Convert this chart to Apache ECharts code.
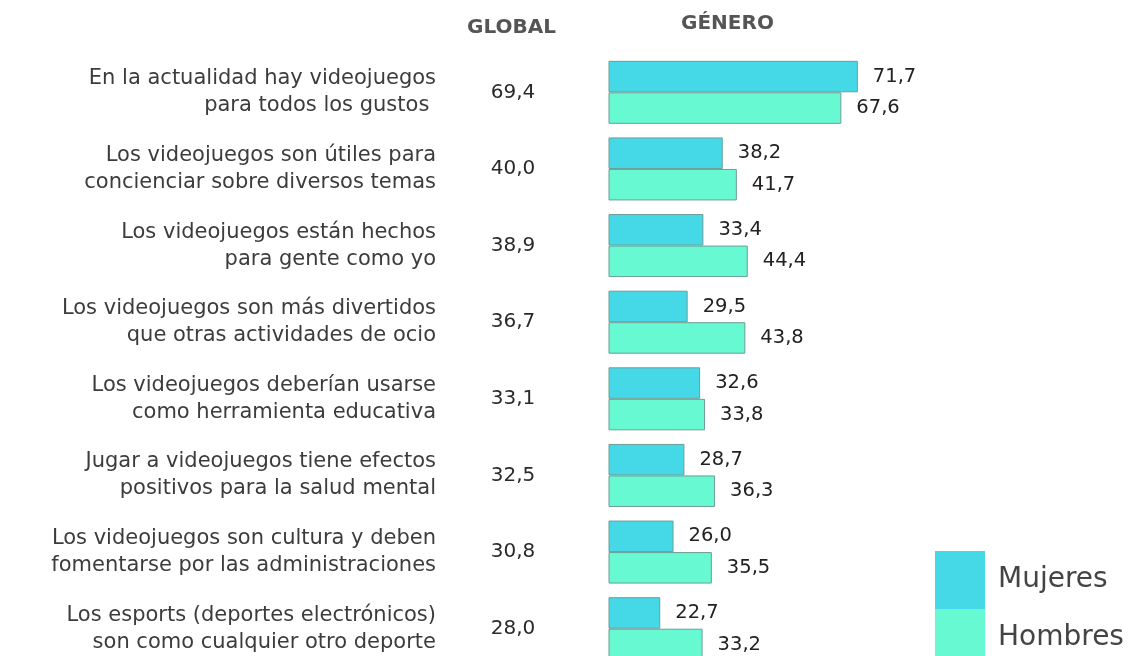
<!DOCTYPE html>
<html>
<head>
<meta charset="utf-8">
<title>Opiniones sobre videojuegos</title>
<script src="https://cdn.jsdelivr.net/npm/echarts@6/dist/echarts.min.js"></script>
<style>
  html, body { margin: 0; padding: 0; background: #ffffff; overflow: hidden; }
  #chart { width: 1138px; height: 656px; }
</style>
</head>
<body>
<div id="chart"></div>
<script>
// Afirmaciones (cada una en dos líneas)
const statements = [
  'En la actualidad hay videojuegos\npara todos los gustos ',
  'Los videojuegos son útiles para\nconcienciar sobre diversos temas',
  'Los videojuegos están hechos\npara gente como yo',
  'Los videojuegos son más divertidos\nque otras actividades de ocio',
  'Los videojuegos deberían usarse\ncomo herramienta educativa',
  'Jugar a videojuegos tiene efectos\npositivos para la salud mental',
  'Los videojuegos son cultura y deben\nfomentarse por las administraciones',
  'Los esports (deportes electrónicos)\nson como cualquier otro deporte'
];

// Porcentaje global de acuerdo
const globalValues = [69.4, 40.0, 38.9, 36.7, 33.1, 32.5, 30.8, 28.0];

// Porcentaje por género
const mujeres = [71.7, 38.2, 33.4, 29.5, 32.6, 28.7, 26.0, 22.7];
const hombres = [67.6, 41.7, 44.4, 43.8, 33.8, 36.3, 35.5, 33.2];

const fmt = v => v.toFixed(1).replace('.', ',');
const FONT = '"DejaVu Sans", "Noto Sans", sans-serif';

const chart = echarts.init(document.getElementById('chart'));

const barBorder = { borderColor: '#6f9c97', borderWidth: 1 };

const valueLabel = {
  show: true,
  position: 'right',
  distance: 15,
  fontSize: 19.5,
  color: '#222222',
  fontFamily: FONT,
  formatter: p => fmt(p.value)
};

chart.setOption({
  animation: false,
  backgroundColor: '#ffffff',
  textStyle: { fontFamily: FONT },
  graphic: [
    {
      type: 'text', left: 467, top: 18,
      style: { text: 'GLOBAL', font: 'bold 20px ' + FONT, fill: '#555555' }
    },
    {
      type: 'text', left: 681, top: 14,
      style: { text: 'GÉNERO', font: 'bold 20px ' + FONT, fill: '#555555' }
    }
  ],
  legend: {
    data: ['Mujeres', 'Hombres'],
    orient: 'vertical',
    left: 935,
    top: 551,
    height: 130,
    itemWidth: 50,
    itemHeight: 58,
    itemGap: 0,
    icon: 'rect',
    padding: 0,
    itemStyle: { borderWidth: 0 },
    textStyle: { fontSize: 28, color: '#444444', fontFamily: FONT, padding: [0, 0, 0, 8] }
  },
  grid: { left: 609, top: 54, width: 363, height: 613, outerBoundsMode: 'none' },
  xAxis: {
    type: 'value',
    min: 10,
    max: 100,
    show: false
  },
  yAxis: [
    {
      type: 'category',
      data: statements,
      inverse: true,
      axisLine: { show: false },
      axisTick: { show: false },
      splitLine: { show: false },
      axisLabel: {
        margin: 173,
        fontSize: 21,
        lineHeight: 27,
        color: '#3c3c3c',
        fontFamily: FONT,
        align: 'right'
      }
    },
    {
      type: 'category',
      data: globalValues.map(fmt),
      inverse: true,
      position: 'left',
      axisLine: { show: false },
      axisTick: { show: false },
      splitLine: { show: false },
      axisLabel: {
        margin: 96,
        fontSize: 20,
        color: '#2a2a2a',
        fontFamily: FONT,
        align: 'center'
      }
    }
  ],
  series: [
    {
      name: 'Mujeres',
      type: 'bar',
      yAxisIndex: 0,
      data: mujeres,
      barWidth: 31.5,
      barGap: '0%',
      itemStyle: Object.assign({ color: '#45d9e8' }, barBorder),
      label: valueLabel
    },
    {
      name: 'Hombres',
      type: 'bar',
      yAxisIndex: 0,
      data: hombres,
      barWidth: 31.5,
      barGap: '0%',
      itemStyle: Object.assign({ color: '#66f9d2' }, barBorder),
      label: valueLabel
    }
  ]
});
</script>
</body>
</html>
